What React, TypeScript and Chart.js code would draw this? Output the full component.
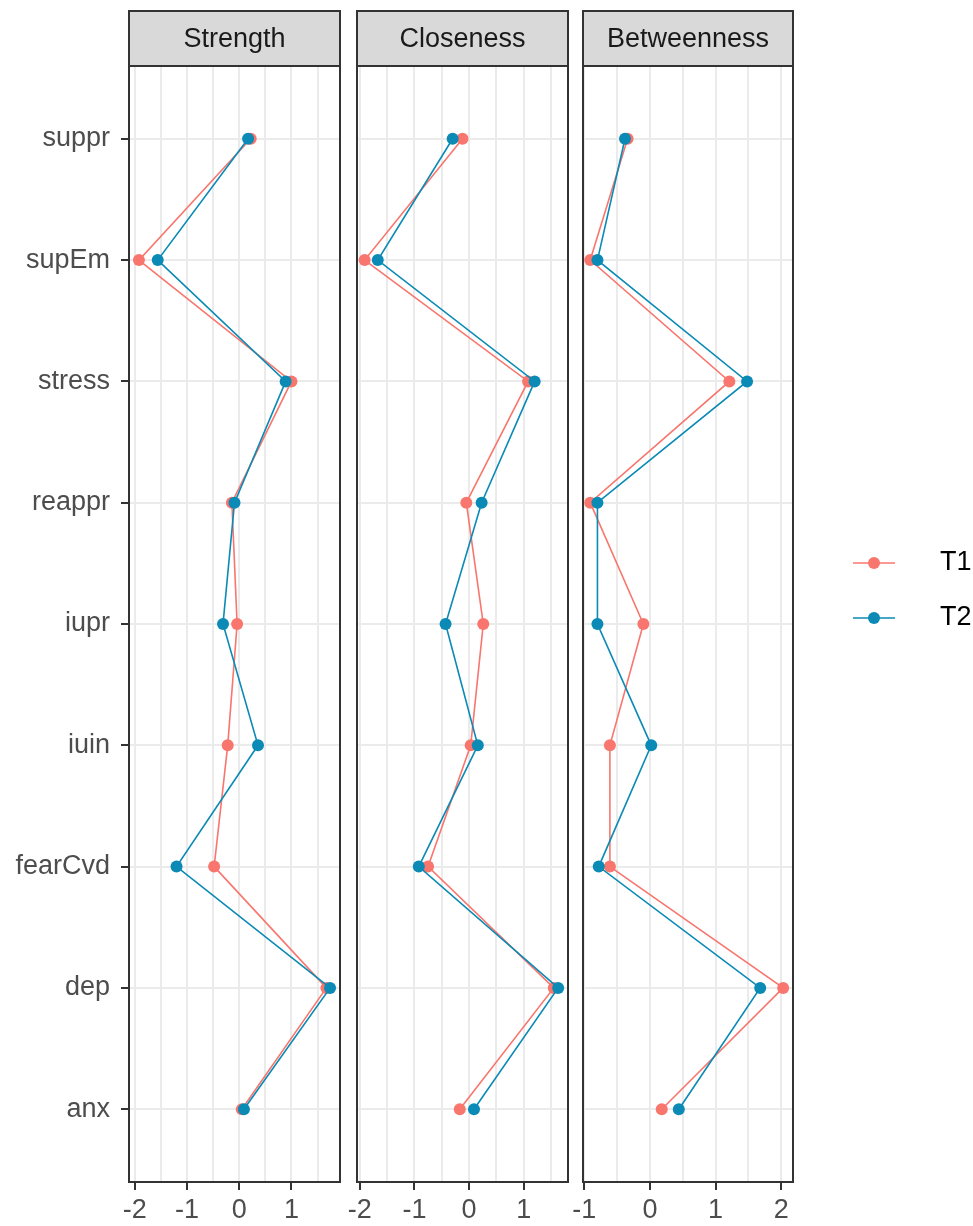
import React, { useEffect, useRef } from 'react';
import { Chart, registerables } from 'chart.js';

Chart.register(...registerables);

// ---------- data ----------
// categories in axis order, bottom (1) to top (9)
const categories = ['anx', 'dep', 'fearCvd', 'iuin', 'iupr', 'reappr', 'stress', 'supEm', 'suppr'];
const seriesNames = ['T1', 'T2'];
const seriesColors = ['#F8766D', '#0A8AB5'];
const panelTitles = ['Strength', 'Closeness', 'Betweenness'];

const strengthT1 = [0.05, 1.67, -0.48, -0.22, -0.04, -0.14, 1.0, -1.92, 0.22];
const strengthT2 = [0.09, 1.74, -1.2, 0.36, -0.31, -0.09, 0.89, -1.56, 0.17];
const closenessT1 = [-0.17, 1.55, -0.75, 0.03, 0.26, -0.05, 1.08, -1.91, -0.12];
const closenessT2 = [0.09, 1.63, -0.92, 0.16, -0.43, 0.23, 1.2, -1.67, -0.3];
const betweennessT1 = [0.18, 2.03, -0.61, -0.61, -0.1, -0.91, 1.21, -0.91, -0.34];
const betweennessT2 = [0.44, 1.68, -0.78, 0.02, -0.8, -0.8, 1.48, -0.8, -0.38];

const strengthTicks = [-2, -1.5, -1, -0.5, 0, 0.5, 1, 1.5];
const closenessTicks = [-2, -1.5, -1, -0.5, 0, 0.5, 1, 1.5];
const betweennessTicks = [-1, -0.5, 0, 0.5, 1, 1.5, 2];

const strengthRange = [-2.11, 1.93];
const closenessRange = [-2.05, 1.81];
const betweennessRange = [-1.02, 2.18];

// ---------- layout ----------
const W = 973;
const H = 1226;
const STRIP_TOP = 11;
const PLOT_TOP = 66;
const PLOT_BOTTOM = 1182;
const panelEdges = [
  [129, 340],
  [357, 568],
  [583, 793],
];
const FONT = "'Liberation Sans', Arial, sans-serif";
const FONT_SIZE = 27;

const panels = [
  { title: panelTitles[0], t1: strengthT1, t2: strengthT2, ticks: strengthTicks, range: strengthRange },
  { title: panelTitles[1], t1: closenessT1, t2: closenessT2, ticks: closenessTicks, range: closenessRange },
  { title: panelTitles[2], t1: betweennessT1, t2: betweennessT2, ticks: betweennessTicks, range: betweennessRange },
];

const decoPlugin = {
  id: 'panelDeco',
  afterDraw(chart: any, _args: any, opts: any) {
    const { ctx, chartArea: a } = chart;
    ctx.save();
    // strip
    ctx.fillStyle = '#D9D9D9';
    ctx.fillRect(a.left, STRIP_TOP, a.right - a.left, a.top - STRIP_TOP);
    ctx.strokeStyle = '#333333';
    ctx.lineWidth = 2;
    ctx.strokeRect(a.left, STRIP_TOP, a.right - a.left, a.top - STRIP_TOP);
    // panel border
    ctx.strokeRect(a.left, a.top, a.right - a.left, a.bottom - a.top);
    // strip text
    ctx.fillStyle = '#1A1A1A';
    ctx.font = `${FONT_SIZE}px ${FONT}`;
    ctx.textAlign = 'center';
    ctx.textBaseline = 'middle';
    ctx.fillText(opts.title, (a.left + a.right) / 2, (STRIP_TOP + a.top) / 2 + 1);
    // legend
    if (opts.legend) {
      const legendY = [563, 618];
      seriesNames.forEach((name, k) => {
        const y = legendY[k];
        ctx.strokeStyle = seriesColors[k];
        ctx.lineWidth = 1.6;
        ctx.beginPath();
        ctx.moveTo(853, y);
        ctx.lineTo(895, y);
        ctx.stroke();
        ctx.fillStyle = seriesColors[k];
        ctx.beginPath();
        ctx.arc(874, y, 6, 0, Math.PI * 2);
        ctx.fill();
        ctx.fillStyle = '#000000';
        ctx.textAlign = 'left';
        ctx.textBaseline = 'middle';
        ctx.fillText(name, 940, y);
      });
    }
    ctx.restore();
  },
};

function makeConfig(p: any, i: number): any {
  const [left, right] = panelEdges[i];
  const toPoints = (vals: number[]) => vals.map((v, k) => ({ x: v, y: k + 1 }));
  const ds = (k: number, vals: number[]) => ({
    label: seriesNames[k],
    data: toPoints(vals),
    borderColor: seriesColors[k],
    backgroundColor: seriesColors[k],
    pointBackgroundColor: seriesColors[k],
    borderWidth: 1.6,
    pointRadius: 6,
    pointBorderWidth: 0,
    tension: 0,
    order: 1 - k,
  });
  return {
    type: 'line',
    data: { datasets: [ds(0, p.t1), ds(1, p.t2)] },
    options: {
      responsive: false,
      animation: false,
      events: [],
      layout: { padding: { left: 0, right: W - right, top: PLOT_TOP, bottom: 0 } },
      plugins: {
        legend: { display: false },
        tooltip: { enabled: false },
        title: { display: false },
        panelDeco: { title: p.title, legend: i === 2 },
      },
      scales: {
        x: {
          type: 'linear',
          min: p.range[0],
          max: p.range[1],
          afterBuildTicks: (s: any) => {
            s.ticks = p.ticks.map((v: number) => ({ value: v }));
          },
          afterFit: (s: any) => {
            s.height = H - PLOT_BOTTOM;
          },
          ticks: {
            autoSkip: false,
            maxRotation: 0,
            minRotation: 0,
            padding: 4,
            color: '#4D4D4D',
            font: { size: FONT_SIZE, family: FONT },
            callback: (v: any) => (Number.isInteger(v) ? String(v) : ''),
          },
          grid: {
            color: '#EBEBEB',
            lineWidth: 2,
            drawTicks: true,
            tickLength: 8,
            tickWidth: 2,
            tickColor: (c: any) => (c.tick && Number.isInteger(c.tick.value) ? '#333333' : 'rgba(0,0,0,0)'),
          },
          border: { display: false },
        },
        y: {
          type: 'linear',
          min: 0.4,
          max: 9.6,
          afterBuildTicks: (s: any) => {
            s.ticks = categories.map((_c, k) => ({ value: k + 1 }));
          },
          afterFit: (s: any) => {
            s.width = left;
          },
          ticks: {
            display: i === 0,
            autoSkip: false,
            padding: 11,
            color: '#4D4D4D',
            font: { size: FONT_SIZE, family: FONT },
            callback: (_v: any, idx: number) => categories[idx],
          },
          grid: {
            color: '#EBEBEB',
            lineWidth: 2,
            drawTicks: i === 0,
            tickLength: 8,
            tickWidth: 2,
            tickColor: '#333333',
          },
          border: { display: false },
        },
      },
    },
    plugins: [decoPlugin],
  };
}

function Panel({ index }: { index: number }) {
  const ref = useRef<HTMLCanvasElement | null>(null);
  useEffect(() => {
    if (!ref.current) return;
    const chart = new Chart(ref.current, makeConfig(panels[index], index));
    return () => chart.destroy();
  }, [index]);
  return (
    <canvas
      ref={ref}
      width={W}
      height={H}
      style={{ position: 'absolute', left: 0, top: 0, width: W, height: H }}
    />
  );
}

export default function App() {
  return (
    <div
      style={{
        position: 'fixed',
        left: 0,
        top: 0,
        width: W,
        height: H,
        background: '#ffffff',
        overflow: 'hidden',
      }}
    >
      {panels.map((_p, i) => (
        <Panel key={i} index={i} />
      ))}
    </div>
  );
}
